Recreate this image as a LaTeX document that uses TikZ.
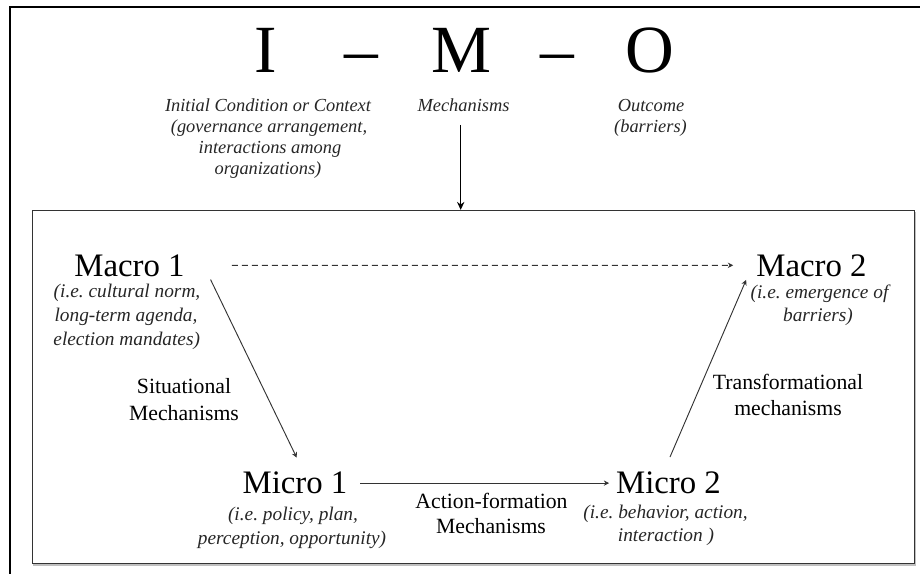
\documentclass[tikz,border=0pt]{standalone}
\usepackage{fontspec}
\setmainfont{Liberation Serif}
\usetikzlibrary{arrows.meta}
\frenchspacing
\begin{document}
\begin{tikzpicture}[x=0.75pt,y=-0.75pt,
  title/.style={font=\fontsize{50.6}{60}\selectfont, inner sep=0pt, anchor=base},
  toplab/.style={font=\fontsize{13.8}{16}\selectfont\itshape, text=black!85, inner sep=0pt, anchor=base},
  lvl/.style={font=\fontsize{24.6}{29}\selectfont, inner sep=0pt, anchor=base},
  sub/.style={font=\fontsize{14.5}{17}\selectfont\itshape, text=black!85, inner sep=0pt, anchor=base},
  mech/.style={font=\fontsize{16.3}{19.5}\selectfont, inner sep=0pt, anchor=base},
  conn/.style={draw=black!80, line width=0.7pt, -{Stealth[length=4pt,width=4pt]}},
]
\useasboundingbox (0,0) rectangle (920,574);
\draw[line width=1.5pt] (921,7.5) -- (9.5,7.5) -- (9.5,575);

% I - M - O
\node[title] (ti) at (266,72.3) {I};
\node[title] (td1) at (361,72.3) {–};
\node[title] (tm) at (461,72.3) {M};
\node[title] (td2) at (557,72.3) {–};
\node[title] (to) at (650,72.3) {O};

\node[toplab] (ic1) at (268,111.7) {Initial Condition or Context};
\node[toplab] (ic2) at (269,132.5) {(governance arrangement,};
\node[toplab] (ic3) at (270,153.3) {interactions among};
\node[toplab] (ic4) at (268,174.1) {organizations)};
\node[toplab] (me) at (463.5,111.7) {Mechanisms};
\node[toplab] (oc1) at (651,111.7) {Outcome};
\node[toplab] (oc2) at (650.5,132.5) {(barriers)};

% inner box
\draw[black!25, line width=1.1pt] (915.5,212) -- (915.5,564.8) -- (33,564.8);
\node[draw=black!80, line width=0.9pt, minimum width=661.5pt, minimum height=264.75pt, inner sep=0pt] (box) at (473.2,387) {};

\coordinate (mstart) at ([shift={(-2.8,13.3)}]me.base);
\draw[line width=1pt, -{Stealth[length=6pt,width=5.5pt]}] (mstart) -- (mstart |- box.north);

% levels
\node[lvl] (mac1) at (129.5,276) {Macro 1};
\node[sub] (mac1a) at (127,297.5) {(i.e. cultural norm,};
\node[sub] (mac1b) at (126,321.5) {long-term agenda,};
\node[sub] (mac1c) at (126.7,345.5) {election mandates)};
\node[lvl] (mac2) at (811.5,276) {Macro 2};
\node[sub] (mac2a) at (819.5,298) {(i.e. emergence of};
\node[sub] (mac2b) at (818,321.5) {barriers)};
\node[lvl] (mic1) at (295,493) {Micro 1};
\node[sub] (mic1a) at (293,520.5) {(i.e. policy, plan,};
\node[sub] (mic1b) at (292,544) {perception, opportunity)};
\node[lvl] (mic2) at (668.5,493) {Micro 2};
\node[sub] (mic2a) at (665.5,518) {(i.e. behavior, action,};
\node[sub] (mic2b) at (666,541) {interaction )};

% mechanism labels
\node[mech] (sm1) at (184,393) {Situational};
\node[mech] (sm2) at (184,420) {Mechanisms};
\node[mech] (af1) at (491.5,508) {Action-formation};
\node[mech] (af2) at (491,533.5) {Mechanisms};
\node[mech] (tf1) at (788,389) {Transformational};
\node[mech] (tf2) at (788,415) {mechanisms};

% connectors
\draw[conn, dash pattern=on 4.5pt off 3pt] ([shift={(47,0)}]mac1.east) -- ([shift={(-23,0)}]mac2.west);
\draw[conn] ([shift={(25.7,3)}]mac1.south east) -- ([shift={(1.7,-13.4)}]mic1.north);
\draw[conn] ([shift={(12.7,0.8)}]mic1.east) -- ([shift={(-6.7,0.8)}]mic2.west);
\draw[conn] ([shift={(1.5,-14)}]mic2.north) -- ([shift={(-10,3.3)}]mac2.south west);
\end{tikzpicture}
\end{document}
